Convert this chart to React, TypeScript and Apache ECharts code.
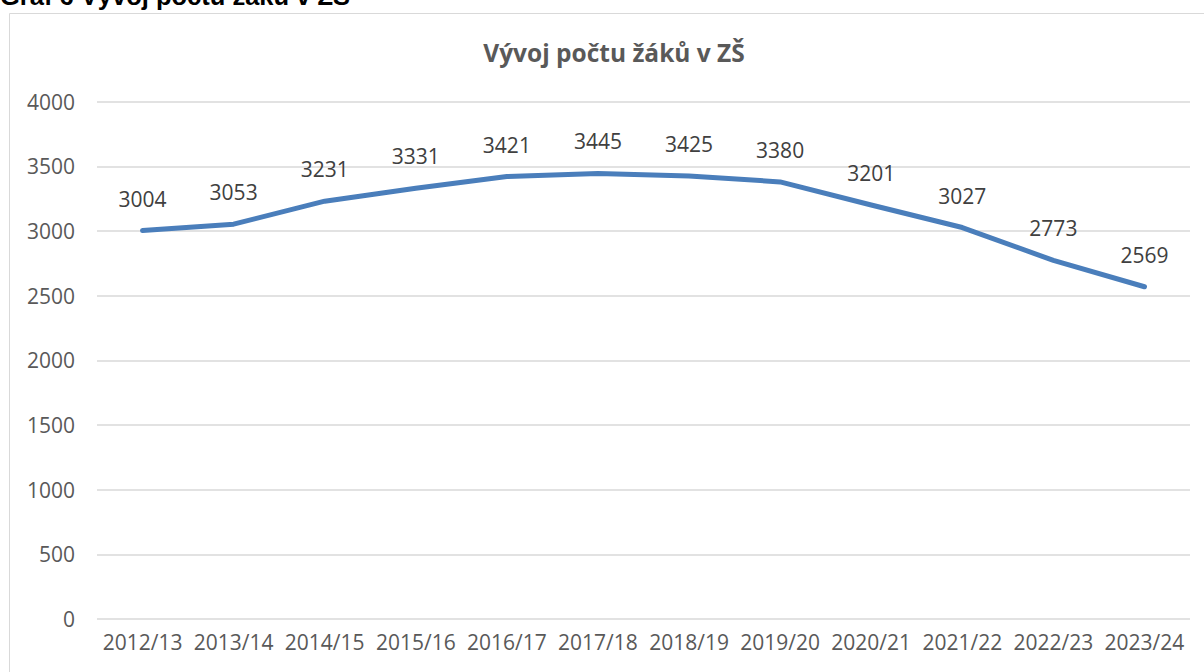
import React, { useEffect, useRef } from "react";
import * as echarts from "echarts";

const categories = [
  "2012/13", "2013/14", "2014/15", "2015/16", "2016/17", "2017/18",
  "2018/19", "2019/20", "2020/21", "2021/22", "2022/23", "2023/24",
];
const pupils = [3004, 3053, 3231, 3331, 3421, 3445, 3425, 3380, 3201, 3027, 2773, 2569];
const chartTitle = "Vývoj počtu žáků v ZŠ";
const headerText = "Graf 6 Vývoj počtu žáků v ZŠ";

export default function App() {
  const ref = useRef<HTMLDivElement>(null);
  useEffect(() => {
    if (!ref.current) return;
    const chart = echarts.init(ref.current, null, { renderer: "svg" });
    chart.setOption({
      animation: false,
      backgroundColor: "#ffffff",
      graphic: [
        {
          type: "rect",
          shape: { x: 9.5, y: 13.5, width: 1240, height: 700 },
          style: { fill: "none", stroke: "#d9d9d9", lineWidth: 1 },
          z: 0,
          silent: true,
        },
        {
          type: "text",
          x: 0,
          y: -4,
          style: {
            text: headerText,
            font: "bold 25.5px 'Liberation Sans', Arial, sans-serif",
            fill: "#000000",
            align: "left",
            verticalAlign: "middle",
          },
        },
        {
          type: "text",
          x: 614,
          y: 52,
          style: {
            text: chartTitle,
            font: "bold 24.5px 'Open Sans', sans-serif",
            fill: "#595959",
            align: "center",
            verticalAlign: "middle",
          },
        },
      ],
      grid: { left: 97, right: 14, top: 101.7, bottom: 53, containLabel: false },
      xAxis: {
        type: "category",
        data: categories,
        boundaryGap: true,
        axisLine: { show: false },
        axisTick: { show: false },
        axisLabel: {
          color: "#595959",
          fontFamily: "'Open Sans', sans-serif",
          fontSize: 21,
          margin: 12,
          interval: 0,
        },
      },
      yAxis: {
        type: "value",
        min: 0,
        max: 4000,
        interval: 500,
        axisLine: { show: false },
        axisTick: { show: false },
        splitLine: { lineStyle: { color: "#d9d9d9", width: 1.5 } },
        axisLabel: {
          color: "#595959",
          fontFamily: "'Open Sans', sans-serif",
          fontSize: 21,
          margin: 22,
          formatter: (v: number) => String(v),
        },
      },
      series: [
        {
          type: "line",
          data: pupils,
          symbol: "circle",
          symbolSize: 1,
          showSymbol: true,
          itemStyle: { color: "rgba(74,126,187,0)" },
          lineStyle: { color: "#4a7ebb", width: 5, cap: "round", join: "round" },
          label: {
            show: true,
            position: "top",
            distance: 21,
            color: "#404040",
            fontFamily: "'Open Sans', sans-serif",
            fontSize: 21,
          },
        },
      ],
    });
    return () => chart.dispose();
  }, []);
  return (
    <div
      ref={ref}
      style={{ position: "fixed", left: 0, top: 0, width: 1204, height: 672 }}
    />
  );
}
